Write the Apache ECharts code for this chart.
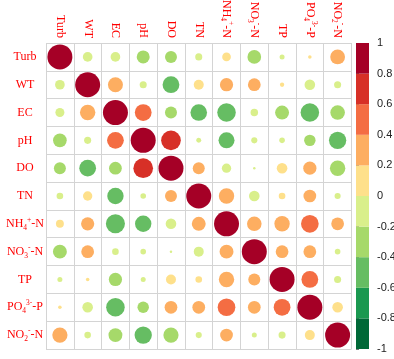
<!DOCTYPE html>
<html><head><meta charset="utf-8">
<script src="https://cdn.jsdelivr.net/npm/echarts@6/dist/echarts.min.js"></script>
<style>html,body{margin:0;padding:0;background:#fff}#c{width:394px;height:359px}</style>
</head><body><div id="c"></div>
<script>
var variables = ['Turb','WT','EC','pH','DO','TN','NH4','NO3','TP','PO4','NO2'];
var varLabels = ['Turb','WT','EC','pH','DO','TN','NH{sub|4}{sup|+}-N','NO{sub|3}{sup|-}-N','TP','PO{sub|4}{sup|3-}-P','NO{sub|2}{sup|-}-N'];
var rowTurb = [1, -0.15, -0.15, -0.27, -0.23, -0.08, 0.12, -0.30, -0.04, 0.02, 0.35];
var rowWT   = [-0.15, 1, 0.36, -0.08, -0.45, 0.16, 0.28, 0.26, 0.03, -0.18, -0.08];
var rowEC   = [-0.13, 0.38, 1, 0.45, -0.23, -0.44, -0.55, -0.09, -0.31, -0.55, -0.34];
var rowPH   = [-0.30, -0.08, 0.45, 1, 0.62, -0.04, -0.41, -0.06, -0.05, -0.21, -0.48];
var rowDO   = [-0.23, -0.45, -0.26, 0.62, 1, 0.23, -0.14, -0.01, 0.18, 0.28, -0.38];
var rowTN   = [-0.07, 0.14, -0.43, -0.05, 0.23, 1, 0.38, -0.18, 0.07, 0.26, -0.06];
var rowNH4  = [0.10, 0.28, -0.58, -0.43, -0.18, 0.31, 1, 0.34, 0.38, 0.50, 0.26];
var rowNO3  = [-0.31, 0.26, -0.07, -0.05, -0.01, -0.16, 0.31, 1, 0.26, 0.26, -0.05];
var rowTP   = [-0.04, 0.02, -0.28, -0.04, 0.16, 0.07, 0.38, 0.23, 1, 0.45, -0.08];
var rowPO4  = [0.02, -0.18, -0.55, -0.21, 0.26, 0.26, 0.50, 0.26, 0.45, 1, 0.18];
var rowNO2  = [0.37, -0.07, -0.31, -0.48, -0.37, -0.06, 0.26, -0.04, -0.08, 0.16, 1];
var binEdges = [-1, -0.8, -0.6, -0.4, -0.2, 0, 0.2, 0.4, 0.6, 0.8, 1];
var binColors = ['#006837','#1A9850','#66BD63','#A6D96A','#D9EF8B','#FEE08B','#FDAE61','#F46D43','#D73027','#A50026'];

var rows = [rowTurb,rowWT,rowEC,rowPH,rowDO,rowTN,rowNH4,rowNO3,rowTP,rowPO4,rowNO2];
var data = [];
rows.forEach(function(r, yi){ r.forEach(function(v, xi){ data.push([xi, yi, v]); }); });
var pieces = [];
for (var i = 0; i < binColors.length; i++) {
  var p = {gte: binEdges[i], color: binColors[i]};
  if (i < binColors.length - 1) p.lt = binEdges[i+1]; else p.lte = binEdges[i+1];
  pieces.push(p);
}
var barData = [];
for (var j = 0; j < binColors.length; j++) barData.push([binEdges[j], binEdges[j+1], j]);

var G = {left: 46, top: 43, width: 305.5, height: 306};
var cell = G.width / variables.length;
var labelFmt = function(v){ return varLabels[variables.indexOf(v)]; };
var rich = {
  sub: {fontSize: 7.5, lineHeight: 8, verticalAlign: 'bottom', color: 'red', fontFamily: 'Liberation Serif'},
  sup: {fontSize: 7.5, lineHeight: 8, verticalAlign: 'top', color: 'red', fontFamily: 'Liberation Serif'}
};
var chart = echarts.init(document.getElementById('c'), null, {renderer: 'canvas'});
chart.setOption({
  animation: false,
  backgroundColor: '#fff',
  grid: [
    {left: G.left, top: G.top, width: G.width, height: G.height, containLabel: false, outerBoundsMode: 'none'},
    {left: 356, top: 43, width: 13, height: 306, containLabel: false, outerBoundsMode: 'none'}
  ],
  xAxis: [
    {type: 'category', data: variables, position: 'top', gridIndex: 0,
     axisLine: {show: false}, axisTick: {show: false},
     splitLine: {show: true, lineStyle: {color: '#d4d4d4', width: 1}},
     axisLabel: {rotate: 90, margin: 5, color: 'red', fontFamily: 'Liberation Serif', fontSize: 12, lineHeight: 16, formatter: labelFmt, rich: rich, interval: 0}},
    {type: 'value', gridIndex: 1, min: 0, max: 1, show: false}
  ],
  yAxis: [
    {type: 'category', data: variables, inverse: true, gridIndex: 0,
     axisLine: {show: false}, axisTick: {show: false},
     splitLine: {show: true, lineStyle: {color: '#d4d4d4', width: 1}},
     axisLabel: {align: 'center', margin: 21, color: 'red', fontFamily: 'Liberation Serif', fontSize: 12, lineHeight: 16, formatter: labelFmt, rich: rich, interval: 0}},
    {type: 'value', gridIndex: 1, min: -1, max: 1, interval: 0.2, position: 'right',
     axisLine: {show: false}, splitLine: {show: false},
     axisTick: {show: true, length: 3, lineStyle: {color: '#777'}},
     axisLabel: {margin: 8, color: '#222', fontFamily: 'Liberation Sans', fontSize: 11}}
  ],
  visualMap: {type: 'piecewise', show: false, dimension: 2, seriesIndex: 0, pieces: pieces},
  series: [
    {type: 'scatter', xAxisIndex: 0, yAxisIndex: 0, data: data, symbol: 'circle',
     symbolSize: function(v){ return 0.9 * Math.sqrt(Math.abs(v[2])) * cell; },
     itemStyle: {opacity: 1}},
    {type: 'custom', xAxisIndex: 1, yAxisIndex: 1, data: barData,
     renderItem: function(params, api){
       var p1 = api.coord([0, api.value(1)]);
       var p2 = api.coord([1, api.value(0)]);
       return {type: 'rect', shape: {x: p1[0], y: p1[1], width: p2[0]-p1[0], height: p2[1]-p1[1]},
               style: {fill: binColors[api.value(2)]}};
     }}
  ]
});
</script></body></html>
